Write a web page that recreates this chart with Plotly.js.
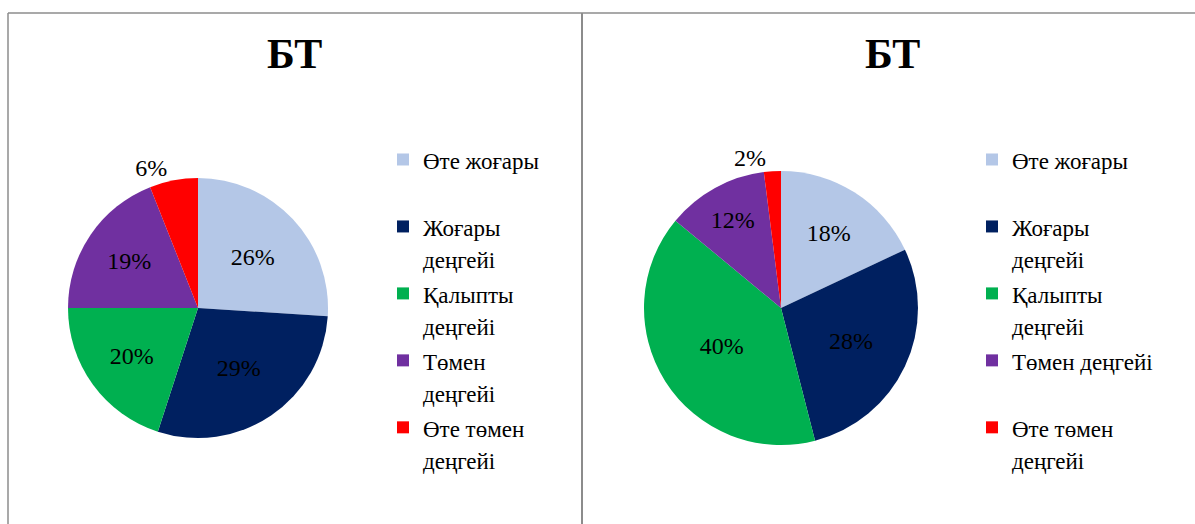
<!DOCTYPE html>
<html>
<head>
<meta charset="utf-8">
<script src="https://cdn.plot.ly/plotly-3.0.1.min.js"></script>
<style>html,body{margin:0;padding:0;background:#fff;}#chart{width:1195px;height:524px;}</style>
</head>
<body>
<div id="chart"></div>
<script>
const categories = ["Өте жоғары", "Жоғары деңгейі", "Қалыпты деңгейі", "Төмен деңгейі", "Өте төмен деңгейі"];
const legendLinesLeft = [["Өте жоғары", "\u00a0"], ["Жоғары", "деңгейі"], ["Қалыпты", "деңгейі"], ["Төмен", "деңгейі"], ["Өте төмен", "деңгейі"]];
const legendLinesRight = [["Өте жоғары", "\u00a0"], ["Жоғары", "деңгейі"], ["Қалыпты", "деңгейі"], ["Төмен деңгейі", "\u00a0"], ["Өте төмен", "деңгейі"]];
const valuesLeft = [26, 29, 20, 19, 6];
const valuesRight = [18, 28, 40, 12, 2];
const titles = ["БТ", "БТ"];
const colors = ["#B4C7E7", "#002060", "#00B050", "#7030A0", "#FF0000"];

const W = 1195, H = 524;
const px = x => x / W;
const py = y => 1 - y / H;
const serif = "Liberation Serif";

function legendLabel(lines, suffix) {
  return lines.map(l => "<span style=\"font-size:23px\">" + l + "</span>").join("<br>") + suffix;
}

function pieTrace(labels, values, domain, legendId) {
  return {
    type: "pie",
    labels: labels,
    values: values,
    sort: false,
    direction: "clockwise",
    rotation: 0,
    marker: {colors: colors, line: {width: 0}},
    texttemplate: "%{value}%",
    textposition: values.map(v => v < 8 ? "outside" : "inside"),
    insidetextorientation: "horizontal",
    textfont: {family: serif, size: 24, color: "#000"},
    insidetextfont: {family: serif, size: 24, color: "#000"},
    outsidetextfont: {family: serif, size: 24, color: "#000"},
    hoverinfo: "none",
    domain: domain,
    legend: legendId,
    showlegend: true
  };
}

const data = [
  pieTrace(legendLinesLeft.map(l => legendLabel(l, "")), valuesLeft, {x: [px(68), px(328)], y: [py(438), py(178)]}, "legend"),
  pieTrace(legendLinesRight.map(l => legendLabel(l, "\u200b")), valuesRight, {x: [px(644), px(918)], y: [py(445), py(171)]}, "legend2")
];

const legendBase = {
  font: {family: serif, size: 24.6, color: "#000"},
  bgcolor: "rgba(0,0,0,0)",
  xanchor: "left",
  yanchor: "top",
  valign: "top",
  traceorder: "normal"
};

const layout = {
  width: W,
  height: H,
  margin: {l: 0, r: 0, t: 0, b: 0},
  paper_bgcolor: "#fff",
  font: {family: serif, color: "#000"},
  showlegend: true,
  legend: Object.assign({}, legendBase, {x: px(383), y: py(137)}),
  legend2: Object.assign({}, legendBase, {x: px(972), y: py(137)}),
  annotations: [
    {text: "<b>" + titles[0] + "</b>", x: px(294), y: py(54), xref: "paper", yref: "paper", xanchor: "center", yanchor: "middle", showarrow: false, font: {family: serif, size: 42, color: "#000"}},
    {text: "<b>" + titles[1] + "</b>", x: px(892), y: py(54), xref: "paper", yref: "paper", xanchor: "center", yanchor: "middle", showarrow: false, font: {family: serif, size: 42, color: "#000"}}
  ],
  shapes: [
    {type: "line", xref: "paper", yref: "paper", x0: px(8), x1: 1, y0: py(13), y1: py(13), line: {color: "#8c8c8c", width: 1.5}},
    {type: "line", xref: "paper", yref: "paper", x0: px(8), x1: px(8), y0: py(13), y1: 0, line: {color: "#8c8c8c", width: 1.5}},
    {type: "line", xref: "paper", yref: "paper", x0: px(582), x1: px(582), y0: py(13), y1: 0, line: {color: "#8c8c8c", width: 2}}
  ]
};

Plotly.newPlot("chart", data, layout, {displayModeBar: false, staticPlot: true});
</script>
</body>
</html>
